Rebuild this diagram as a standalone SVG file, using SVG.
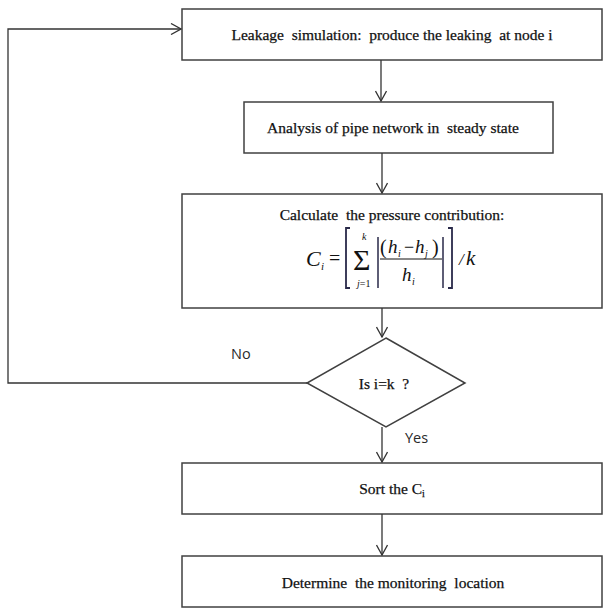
<svg xmlns="http://www.w3.org/2000/svg" width="603" height="608" viewBox="0 0 603 608">
<defs>
<marker id="arr" viewBox="0 0 12 12" refX="11" refY="6" markerWidth="12" markerHeight="12" markerUnits="userSpaceOnUse" orient="auto">
<path d="M1,0.5 L11,6 L1,11.5" fill="none" stroke="#333" stroke-width="1.3"/>
</marker>
<style>
.box{fill:#fff;stroke:#404040;stroke-width:1.5}
.t{font-family:"Liberation Serif","Times New Roman",serif;font-size:15.5px;fill:#111;text-anchor:middle;white-space:pre;stroke:#111;stroke-width:0.25}
.lbl{font-family:"Open Sans","Liberation Sans",sans-serif;font-size:14.5px;fill:#2a2a2a}
.c{fill:none;stroke:#333;stroke-width:1.3}
.m{font-family:"Liberation Serif","Times New Roman",serif;font-style:italic;fill:#111}
.s{font-family:"Liberation Serif","Times New Roman",serif;fill:#111}
.br{fill:none;stroke:#2a2a4a;stroke-width:1.8}
</style>
</defs>
<rect width="603" height="608" fill="#fff"/>
<g id="n1"><rect class="box" x="182" y="9" width="420" height="51"/><text class="t" x="392" y="40" xml:space="preserve">Leakage  simulation:  produce the leaking  at node i</text></g>
<g id="n2"><rect class="box" x="244" y="102" width="309" height="51"/><text class="t" x="393" y="133" xml:space="preserve">Analysis of pipe network in  steady state</text></g>
<g id="n3"><rect class="box" x="182" y="194" width="420" height="114"/>
<text class="t" x="392" y="220" xml:space="preserve">Calculate  the pressure contribution:</text>
<text class="m" x="306" y="266" font-size="22">C</text>
<text class="m" x="321" y="270" font-size="11">i</text>
<text class="s" x="329" y="265" font-size="20">=</text>
<path class="br" d="M350,228 H346 V288 H350"/>
<text class="s" x="353" y="270" font-size="30">Σ</text>
<text class="m" x="362" y="240" font-size="10">k</text>
<text class="s" x="357" y="287" font-size="10"><tspan font-style="italic">j</tspan>=1</text>
<path d="M378,237 V288 M443,237 V288" fill="none" stroke="#2a2a4a" stroke-width="1.5"/>
<text class="s" x="380" y="254" font-size="20">(</text>
<text class="m" x="388" y="253" font-size="19">h</text><text class="m" x="398" y="257" font-size="10">i</text>
<text class="s" x="404" y="253" font-size="18">−</text>
<text class="m" x="415" y="253" font-size="19">h</text><text class="m" x="425" y="257" font-size="10">j</text>
<text class="s" x="432" y="254" font-size="20">)</text>
<path d="M380,259 H442" stroke="#111" stroke-width="1"/>
<text class="m" x="402" y="281" font-size="19">h</text><text class="m" x="412" y="285" font-size="10">i</text>
<path class="br" d="M448,228 H452 V288 H448"/>
<text class="m" x="459" y="265" font-size="17">/</text>
<text class="m" x="466" y="265" font-size="21">k</text>
</g>
<g id="n4"><polygon class="box" points="386,338 465,383 386,427 307,383"/><text class="t" x="384" y="389" xml:space="preserve">Is i=k  ?</text></g>
<g id="n5"><rect class="box" x="182" y="463" width="420" height="51"/><text class="t" x="392" y="494">Sort the C<tspan font-size="10" dy="3">i</tspan></text></g>
<g id="n6"><rect class="box" x="182" y="556" width="420" height="51"/><text class="t" x="393" y="588" xml:space="preserve">Determine  the monitoring  location</text></g>
<g id="connectors">
<path class="c" d="M381,60 V101" marker-end="url(#arr)"/>
<path class="c" d="M382,153 V193" marker-end="url(#arr)"/>
<path class="c" d="M382,308 V337" marker-end="url(#arr)"/>
<path class="c" d="M382,427 V462" marker-end="url(#arr)"/>
<path class="c" d="M382,514 V555" marker-end="url(#arr)"/>
<path class="c" d="M307,383 H8 V29 H181" marker-end="url(#arr)"/>
<text class="lbl" x="231" y="359">No</text>
<text class="lbl" x="405" y="443">Yes</text>
</g>
</svg>
